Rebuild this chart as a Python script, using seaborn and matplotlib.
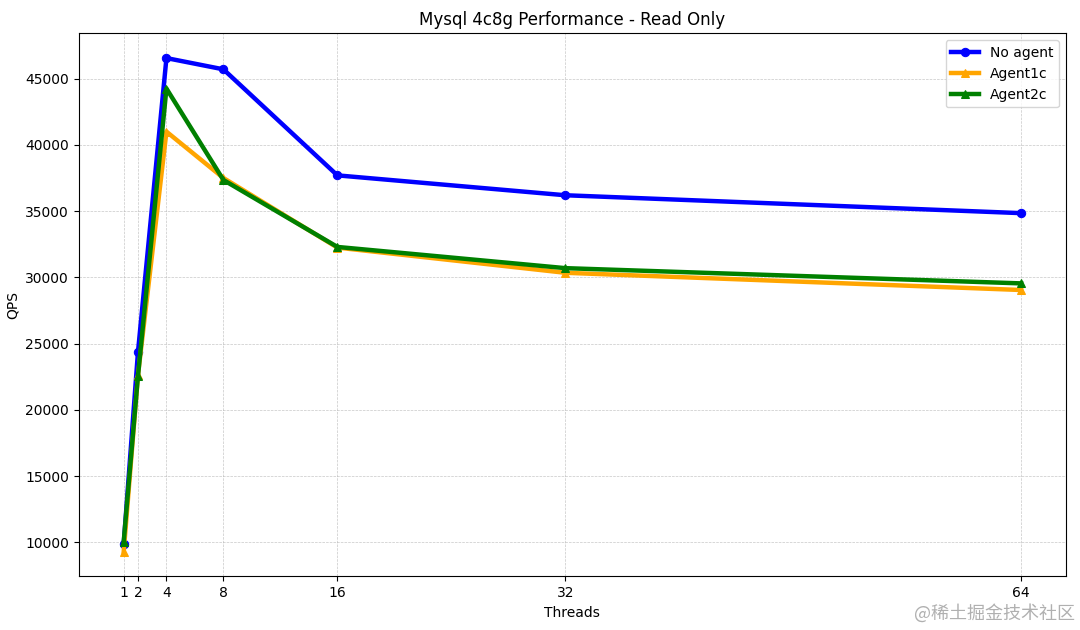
import seaborn as sns
import pandas as pd
import matplotlib.pyplot as plt

threads = [1, 2, 4, 8, 16, 32, 64]
no_agent = [9900, 24350, 46550, 45700, 37700, 36200, 34850]
agent1c = [9300, 22600, 41000, 37500, 32250, 30350, 29050]
agent2c = [10050, 22550, 44250, 37350, 32300, 30700, 29550]

df = pd.DataFrame({'Threads': threads, 'No agent': no_agent,
                   'Agent1c': agent1c, 'Agent2c': agent2c})

fig, ax = plt.subplots(figsize=(10.8, 6.3), dpi=100)
sns.lineplot(x='Threads', y='No agent', data=df, ax=ax, color='blue',
             marker='o', markersize=6, markeredgecolor='blue', linewidth=3.2, label='No agent')
sns.lineplot(x='Threads', y='Agent1c', data=df, ax=ax, color='orange',
             marker='^', markersize=6, markeredgecolor='orange', linewidth=3.2, label='Agent1c')
sns.lineplot(x='Threads', y='Agent2c', data=df, ax=ax, color='green',
             marker='^', markersize=6, markeredgecolor='green', linewidth=3.2, label='Agent2c')

ax.set_xticks(threads)
ax.set_xlabel('Threads')
ax.set_ylabel('QPS')
ax.set_title('Mysql 4c8g Performance - Read Only')
ax.grid(True, linestyle='--', linewidth=0.5, alpha=0.7)
ax.legend(loc='upper right')

fig.subplots_adjust(left=0.073, right=0.987, top=0.947, bottom=0.085)
fig.text(0.995, 0.012, '@稀土掘金技术社区', ha='right', va='bottom', fontsize=13,
         color='#b0b0b0', family=['Noto Sans CJK SC', 'DejaVu Sans'])
fig.savefig('out.png', dpi=100)
